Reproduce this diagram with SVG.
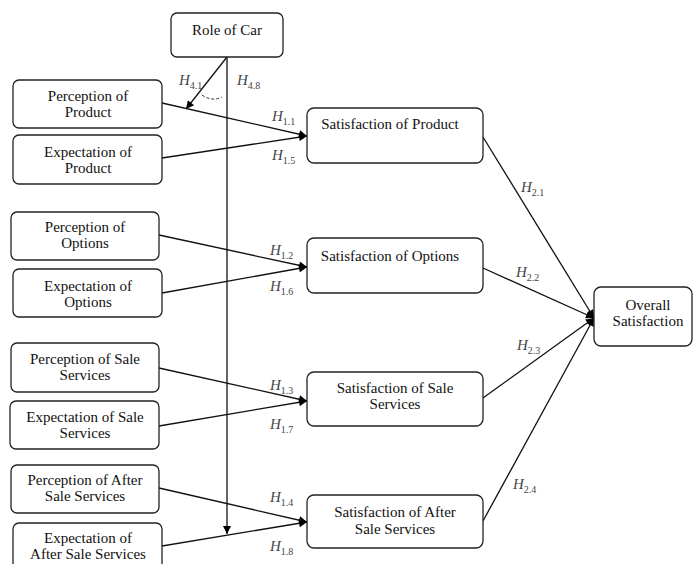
<svg xmlns="http://www.w3.org/2000/svg" width="694" height="564" viewBox="0 0 694 564">
<defs>
<marker id="ah" viewBox="0 0 10 10" refX="10" refY="5" markerWidth="10" markerHeight="8" markerUnits="userSpaceOnUse" orient="auto"><path d="M0,0 L10,5 L0,10 z" fill="#000"/></marker>
<style>
.box{fill:#fff;stroke:#222;stroke-width:1.3}
.t{font-family:'Liberation Serif','Times New Roman','DejaVu Serif',serif;font-size:15px;fill:#111;text-anchor:middle}
.c{stroke:#111;stroke-width:1.3;fill:none}
.h{font-family:'Liberation Serif','Times New Roman','DejaVu Serif',serif;font-style:italic;font-size:15px;fill:#444}
.s{font-size:10px;font-style:normal}
</style>
</defs>
<rect width="694" height="564" fill="#fff"/>
<g id="connectors">
<line class="c" x1="227" y1="57" x2="227" y2="534" marker-end="url(#ah)"/>
<line class="c" x1="227" y1="57" x2="186" y2="109" marker-end="url(#ah)"/>
<path d="M202,95 Q212,102 222,97" fill="none" stroke="#333" stroke-width="1" stroke-dasharray="3,2"/>
<line class="c" x1="162" y1="103" x2="307" y2="136" marker-end="url(#ah)"/>
<line class="c" x1="162" y1="158" x2="307" y2="136" marker-end="url(#ah)"/>
<line class="c" x1="159" y1="235" x2="307" y2="267" marker-end="url(#ah)"/>
<line class="c" x1="162" y1="293" x2="307" y2="267" marker-end="url(#ah)"/>
<line class="c" x1="159" y1="368" x2="307" y2="401" marker-end="url(#ah)"/>
<line class="c" x1="159" y1="426" x2="307" y2="401" marker-end="url(#ah)"/>
<line class="c" x1="159" y1="488" x2="307" y2="522" marker-end="url(#ah)"/>
<line class="c" x1="162" y1="546" x2="307" y2="522" marker-end="url(#ah)"/>
<line class="c" x1="483" y1="137" x2="594" y2="318" marker-end="url(#ah)"/>
<line class="c" x1="483" y1="268" x2="594" y2="318" marker-end="url(#ah)"/>
<line class="c" x1="483" y1="398" x2="594" y2="318" marker-end="url(#ah)"/>
<line class="c" x1="483" y1="521" x2="594" y2="318" marker-end="url(#ah)"/>
</g>
<g id="labels">
<text class="h" x="179" y="85">H<tspan class="s" dy="4">4.1</tspan></text>
<text class="h" x="237" y="85">H<tspan class="s" dy="4">4.8</tspan></text>
<text class="h" x="272" y="121">H<tspan class="s" dy="4">1.1</tspan></text>
<text class="h" x="272" y="160">H<tspan class="s" dy="4">1.5</tspan></text>
<text class="h" x="270" y="255">H<tspan class="s" dy="4">1.2</tspan></text>
<text class="h" x="270" y="291">H<tspan class="s" dy="4">1.6</tspan></text>
<text class="h" x="270" y="390">H<tspan class="s" dy="4">1.3</tspan></text>
<text class="h" x="270" y="429">H<tspan class="s" dy="4">1.7</tspan></text>
<text class="h" x="270" y="502">H<tspan class="s" dy="4">1.4</tspan></text>
<text class="h" x="270" y="551">H<tspan class="s" dy="4">1.8</tspan></text>
<text class="h" x="521" y="192">H<tspan class="s" dy="4">2.1</tspan></text>
<text class="h" x="516" y="277">H<tspan class="s" dy="4">2.2</tspan></text>
<text class="h" x="517" y="350">H<tspan class="s" dy="4">2.3</tspan></text>
<text class="h" x="513" y="489">H<tspan class="s" dy="4">2.4</tspan></text>
</g>
<g id="role">
<rect class="box" x="171" y="13" width="112" height="44" rx="6"/>
<text class="t" x="227" y="35">Role of Car</text>
</g>
<g id="perc-product">
<rect class="box" x="13" y="80" width="149" height="48" rx="6"/>
<text class="t" x="88" y="101">Perception of</text>
<text class="t" x="88" y="117">Product</text>
</g>
<g id="exp-product">
<rect class="box" x="13" y="135" width="149" height="49" rx="6"/>
<text class="t" x="88" y="157">Expectation of</text>
<text class="t" x="88" y="173">Product</text>
</g>
<g id="perc-options">
<rect class="box" x="11" y="212" width="148" height="48" rx="6"/>
<text class="t" x="85" y="232">Perception of</text>
<text class="t" x="85" y="248">Options</text>
</g>
<g id="exp-options">
<rect class="box" x="13" y="269" width="149" height="48" rx="6"/>
<text class="t" x="88" y="291">Expectation of</text>
<text class="t" x="88" y="307">Options</text>
</g>
<g id="perc-sale">
<rect class="box" x="11" y="343" width="148" height="49" rx="6"/>
<text class="t" x="85" y="364">Perception of Sale</text>
<text class="t" x="85" y="380">Services</text>
</g>
<g id="exp-sale">
<rect class="box" x="10" y="401" width="149" height="48" rx="6"/>
<text class="t" x="85" y="422">Expectation of Sale</text>
<text class="t" x="85" y="438">Services</text>
</g>
<g id="perc-after">
<rect class="box" x="11" y="465" width="148" height="48" rx="6"/>
<text class="t" x="85" y="485">Perception of After</text>
<text class="t" x="85" y="501">Sale Services</text>
</g>
<g id="exp-after">
<rect class="box" x="13" y="523" width="149" height="50" rx="6"/>
<text class="t" x="88" y="543">Expectation of</text>
<text class="t" x="88" y="559">After Sale Services</text>
</g>
<g id="sat-product">
<rect class="box" x="307" y="108" width="176" height="55" rx="7"/>
<text class="t" x="390" y="129">Satisfaction of Product</text>
</g>
<g id="sat-options">
<rect class="box" x="307" y="238" width="176" height="55" rx="7"/>
<text class="t" x="390" y="261">Satisfaction of Options</text>
</g>
<g id="sat-sale">
<rect class="box" x="307" y="372" width="176" height="54" rx="7"/>
<text class="t" x="395" y="393">Satisfaction of Sale</text>
<text class="t" x="395" y="409">Services</text>
</g>
<g id="sat-after">
<rect class="box" x="307" y="495" width="176" height="53" rx="7"/>
<text class="t" x="395" y="517">Satisfaction of After</text>
<text class="t" x="395" y="534">Sale Services</text>
</g>
<g id="overall">
<rect class="box" x="594" y="287" width="98" height="59" rx="7"/>
<text class="t" x="648" y="310">Overall</text>
<text class="t" x="648" y="326">Satisfaction</text>
</g>
</svg>
